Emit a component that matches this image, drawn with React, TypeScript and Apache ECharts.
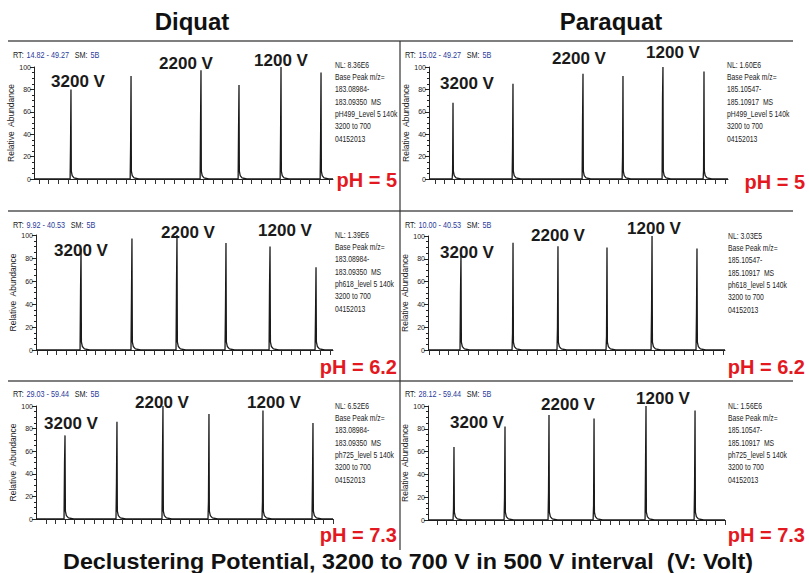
import React, { useEffect, useRef } from "react";
import * as echarts from "echarts";

// ---------- data ----------
const COMPOUNDS = ["Diquat", "Paraquat"];
const PH_LABELS = ["pH = 5", "pH = 6.2", "pH = 7.3"];
const VOLT_LABELS = ["3200 V", "2200 V", "1200 V"];
const Y_TICKS = [0, 20, 40, 60, 80, 100];

// retention time ranges (min) of each panel
const RT_RANGE_DQ_PH5 = [14.82, 49.27];
const RT_RANGE_PQ_PH5 = [15.02, 49.27];
const RT_RANGE_DQ_PH62 = [9.92, 40.53];
const RT_RANGE_PQ_PH62 = [10.0, 40.53];
const RT_RANGE_DQ_PH73 = [29.03, 59.44];
const RT_RANGE_PQ_PH73 = [28.12, 59.44];

// peak apex retention times, apex heights and shoulder heights (relative abundance)
const DQ_PH5_RT = [19.08, 26.0, 34.06, 38.44, 43.28, 47.89];
const DQ_PH5_H = [80, 92, 97, 84, 100, 95];
const DQ_PH5_S = [31, 30, 53, 46, 42, 38];

const PQ_PH5_RT = [17.77, 24.64, 32.66, 37.24, 41.82, 46.52];
const PQ_PH5_H = [68, 85, 94, 92, 100, 96];
const PQ_PH5_S = [6, 28, 54, 20, 73, 8];

const DQ_PH62_RT = [14.56, 19.81, 24.45, 29.5, 34.04, 38.78];
const DQ_PH62_H = [88, 97, 100, 93, 90, 72];
const DQ_PH62_S = [51, 47, 56, 38, 56, 32];

const PQ_PH62_RT = [13.39, 18.74, 23.36, 28.4, 33.03, 37.65];
const PQ_PH62_H = [84, 94, 91, 90, 100, 89];
const PQ_PH62_S = [49, 15, 20, 12, 35, 33];

const DQ_PH73_RT = [32.0, 37.32, 42.03, 46.74, 52.27, 57.39];
const DQ_PH73_H = [74, 86, 100, 93, 96, 85];
const DQ_PH73_S = [49, 33, 55, 16, 16, 35];

const PQ_PH73_RT = [30.86, 36.24, 40.88, 45.63, 51.11, 56.28];
const PQ_PH73_H = [64, 82, 92, 89, 100, 96];
const PQ_PH73_S = [10, 20, 25, 13, 49, 29];

// peak tailing profile after the apex (time offset in min, abundance)
const TAIL_OFFSET = [0.04, 0.14, 0.35, 0.9];
const TAIL_LEVEL = [7, 3, 1, 0];

const NL_VALUES = ["8.36E6", "1.60E6", "1.39E6", "3.03E5", "6.52E6", "1.56E6"];
const MZ_DQ = ["183.08984-", "183.09350  MS"];
const MZ_PQ = ["185.10547-", "185.10917  MS"];
const RAW_FILES = ["pH499_Level 5 140k", "pH499_Level 5 140k", "ph618_level 5 140k", "ph618_level 5 140k", "ph725_level 5 140k", "ph725_level 5 140k"];
const SM_VALUE = "5B";
const FOOTER = "Declustering Potential, 3200 to 700 V in 500 V interval  (V: Volt)";

// ---------- layout ----------
const PANELS = [
  { range: RT_RANGE_DQ_PH5, rt: DQ_PH5_RT, h: DQ_PH5_H, s: DQ_PH5_S, grid: { left: 34, top: 67, width: 299, height: 112 }, ticks: { left: 39, width: 290 },
    volt: [[78, 81], [186, 63], [281, 60]], info: [335, 65], rtPos: [13, 55], ph: [397, 180], mz: MZ_DQ },
  { range: RT_RANGE_PQ_PH5, rt: PQ_PH5_RT, h: PQ_PH5_H, s: PQ_PH5_S, grid: { left: 429, top: 67, width: 299, height: 112 }, ticks: { left: 435, width: 290 },
    volt: [[467, 83], [579, 58], [673, 52]], info: [727, 65], rtPos: [405, 55], ph: [805, 182], mz: MZ_PQ },
  { range: RT_RANGE_DQ_PH62, rt: DQ_PH62_RT, h: DQ_PH62_H, s: DQ_PH62_S, grid: { left: 36, top: 235, width: 297, height: 115 }, ticks: { left: 37, width: 293 },
    volt: [[81, 250], [188, 232], [285, 230]], info: [335, 235], rtPos: [13, 225], ph: [397, 367], mz: MZ_DQ },
  { range: RT_RANGE_PQ_PH62, rt: PQ_PH62_RT, h: PQ_PH62_H, s: PQ_PH62_S, grid: { left: 428, top: 236, width: 297, height: 114 }, ticks: { left: 429, width: 294 },
    volt: [[467, 252], [558, 235], [654, 228]], info: [728, 236], rtPos: [405, 225], ph: [805, 367], mz: MZ_PQ },
  { range: RT_RANGE_DQ_PH73, rt: DQ_PH73_RT, h: DQ_PH73_H, s: DQ_PH73_S, grid: { left: 36, top: 406, width: 297, height: 113 }, ticks: { left: 46, width: 287 },
    volt: [[71, 423], [162, 402], [274, 402]], info: [335, 406], rtPos: [13, 394], ph: [397, 535], mz: MZ_DQ },
  { range: RT_RANGE_PQ_PH73, rt: PQ_PH73_RT, h: PQ_PH73_H, s: PQ_PH73_S, grid: { left: 428, top: 406, width: 297, height: 114 }, ticks: { left: 437, width: 288 },
    volt: [[477, 422], [568, 404], [663, 398]], info: [728, 406], rtPos: [405, 394], ph: [805, 535], mz: MZ_PQ },
];

const SANS = '"Liberation Sans", Arial, sans-serif';

function buildTrace(rts: number[], hs: number[], ss: number[], range: number[]) {
  const pts: number[][] = [[range[0], 0]];
  rts.forEach((t, i) => {
    pts.push([t - 0.1, 0]);
    pts.push([t - 0.05, ss[i]]);
    pts.push([t - 0.03, ss[i]]);
    pts.push([t, hs[i]]);
    TAIL_OFFSET.forEach((d, j) => pts.push([t + d, TAIL_LEVEL[j]]));
  });
  pts.push([range[1], 0]);
  return pts;
}

function buildOption() {
  const grids: any[] = [];
  const xAxes: any[] = [];
  const yAxes: any[] = [];
  const series: any[] = [];
  const graphic: any[] = [];

  PANELS.forEach((p, i) => {
    grids.push({ ...p.grid, containLabel: false });
    xAxes.push({
      type: "value", gridIndex: i, min: p.range[0], max: p.range[1],
      axisLine: { show: true, lineStyle: { color: "#222", width: 1 } },
      axisTick: { show: false }, axisLabel: { show: false }, splitLine: { show: false },
    });
    yAxes.push({
      type: "value", gridIndex: i, min: Y_TICKS[0], max: Y_TICKS[Y_TICKS.length - 1], interval: Y_TICKS[1] - Y_TICKS[0],
      axisLine: { show: true, lineStyle: { color: "#222", width: 1 } },
      axisTick: { show: true, length: 4, lineStyle: { color: "#222" } },
      minorTick: { show: true, splitNumber: 4, length: 2, lineStyle: { color: "#222" } },
      axisLabel: { fontSize: 7, color: "#222", margin: 3, fontFamily: SANS },
      splitLine: { show: false },
      name: "Relative  Abundance", nameLocation: "middle", nameGap: 15,
      nameTextStyle: { fontSize: 8.5, color: "#222", fontFamily: SANS },
    });
    series.push({
      type: "line", xAxisIndex: i, yAxisIndex: i, showSymbol: false, silent: true,
      lineStyle: { color: "#1a1a1a", width: 1.3 }, data: buildTrace(p.rt, p.h, p.s, p.range), z: 2,
    });
  });

  // tick-only axes (minor time ticks under each trace)
  PANELS.forEach((p, i) => {
    const gi = PANELS.length + i;
    grids.push({ left: p.ticks.left, width: p.ticks.width, top: p.grid.top, height: p.grid.height });
    xAxes.push({
      type: "value", gridIndex: gi, min: 0, max: 30, interval: 1,
      axisLine: { show: false }, axisLabel: { show: false }, splitLine: { show: false },
      axisTick: { show: true, length: 5, lineStyle: { color: "#333" } },
    });
    yAxes.push({ type: "value", gridIndex: gi, show: false, min: 0, max: 1 });
  });

  // separators
  [41, 211, 381].forEach((y) =>
    graphic.push({ type: "line", shape: { x1: 8, y1: y, x2: 793, y2: y }, style: { stroke: "#555", lineWidth: 1.5 }, z: 1 })
  );
  graphic.push({ type: "line", shape: { x1: 400, y1: 41, x2: 400, y2: 550 }, style: { stroke: "#333", lineWidth: 1.2 }, z: 1 });

  // column titles
  [[192, 21], [611, 21]].forEach((pos, i) =>
    graphic.push({ type: "text", x: pos[0], y: pos[1], z: 10,
      style: { text: COMPOUNDS[i], fill: "#111", fontSize: 24, fontWeight: "bold", fontFamily: SANS, align: "center", verticalAlign: "middle" } })
  );

  PANELS.forEach((p, i) => {
    p.volt.forEach((pos, j) =>
      graphic.push({ type: "text", x: pos[0], y: pos[1], z: 10,
        style: { text: VOLT_LABELS[j], fill: "#1a1a1a", fontSize: 17, fontWeight: "bold", fontFamily: SANS, align: "center", verticalAlign: "middle" } })
    );
    const lines = ["NL: " + NL_VALUES[i], "Base Peak m/z=", p.mz[0], p.mz[1], RAW_FILES[i], "3200 to 700", "04152013"];
    lines.forEach((t, k) =>
      graphic.push({ type: "text", x: p.info[0], y: p.info[1] + k * 12.3, z: 10, scaleX: 0.8,
        style: { text: t, fill: "#222", fontSize: 8.5, fontFamily: SANS, align: "left", verticalAlign: "middle" } })
    );
    const rtStr = p.range[0].toFixed(2) + " - " + p.range[1].toFixed(2);
    graphic.push({ type: "text", x: p.rtPos[0], y: p.rtPos[1], z: 10, scaleX: 0.85,
      style: { text: "{k|RT:} {v|" + rtStr + "}  {k|SM:} {v|" + SM_VALUE + "}", verticalAlign: "middle", align: "left",
        rich: { k: { fill: "#222", fontSize: 8.5, fontFamily: SANS }, v: { fill: "#2a3a9a", fontSize: 8.5, fontFamily: SANS } } } });
    graphic.push({ type: "text", x: p.ph[0], y: p.ph[1], z: 10,
      style: { text: PH_LABELS[Math.floor(i / 2)], fill: "#e3191f", fontSize: 20, fontWeight: "bold", fontFamily: SANS, align: "right", verticalAlign: "middle" } });
  });

  graphic.push({ type: "text", x: 408, y: 561, z: 10, scaleX: 1.06, originX: 0,
    style: { text: FOOTER, fill: "#111", fontSize: 22, fontWeight: "bold", fontFamily: SANS, align: "center", verticalAlign: "middle" } });

  return { animation: false, backgroundColor: "#fff", grid: grids, xAxis: xAxes, yAxis: yAxes, series, graphic };
}

export default function App() {
  const ref = useRef<HTMLDivElement>(null);
  useEffect(() => {
    if (!ref.current) return;
    const chart = echarts.init(ref.current, null, { renderer: "svg" });
    chart.setOption(buildOption() as any);
    return () => chart.dispose();
  }, []);
  return <div ref={ref} style={{ position: "absolute", left: 0, top: 0, width: 809, height: 573, background: "#fff" }} />;
}
